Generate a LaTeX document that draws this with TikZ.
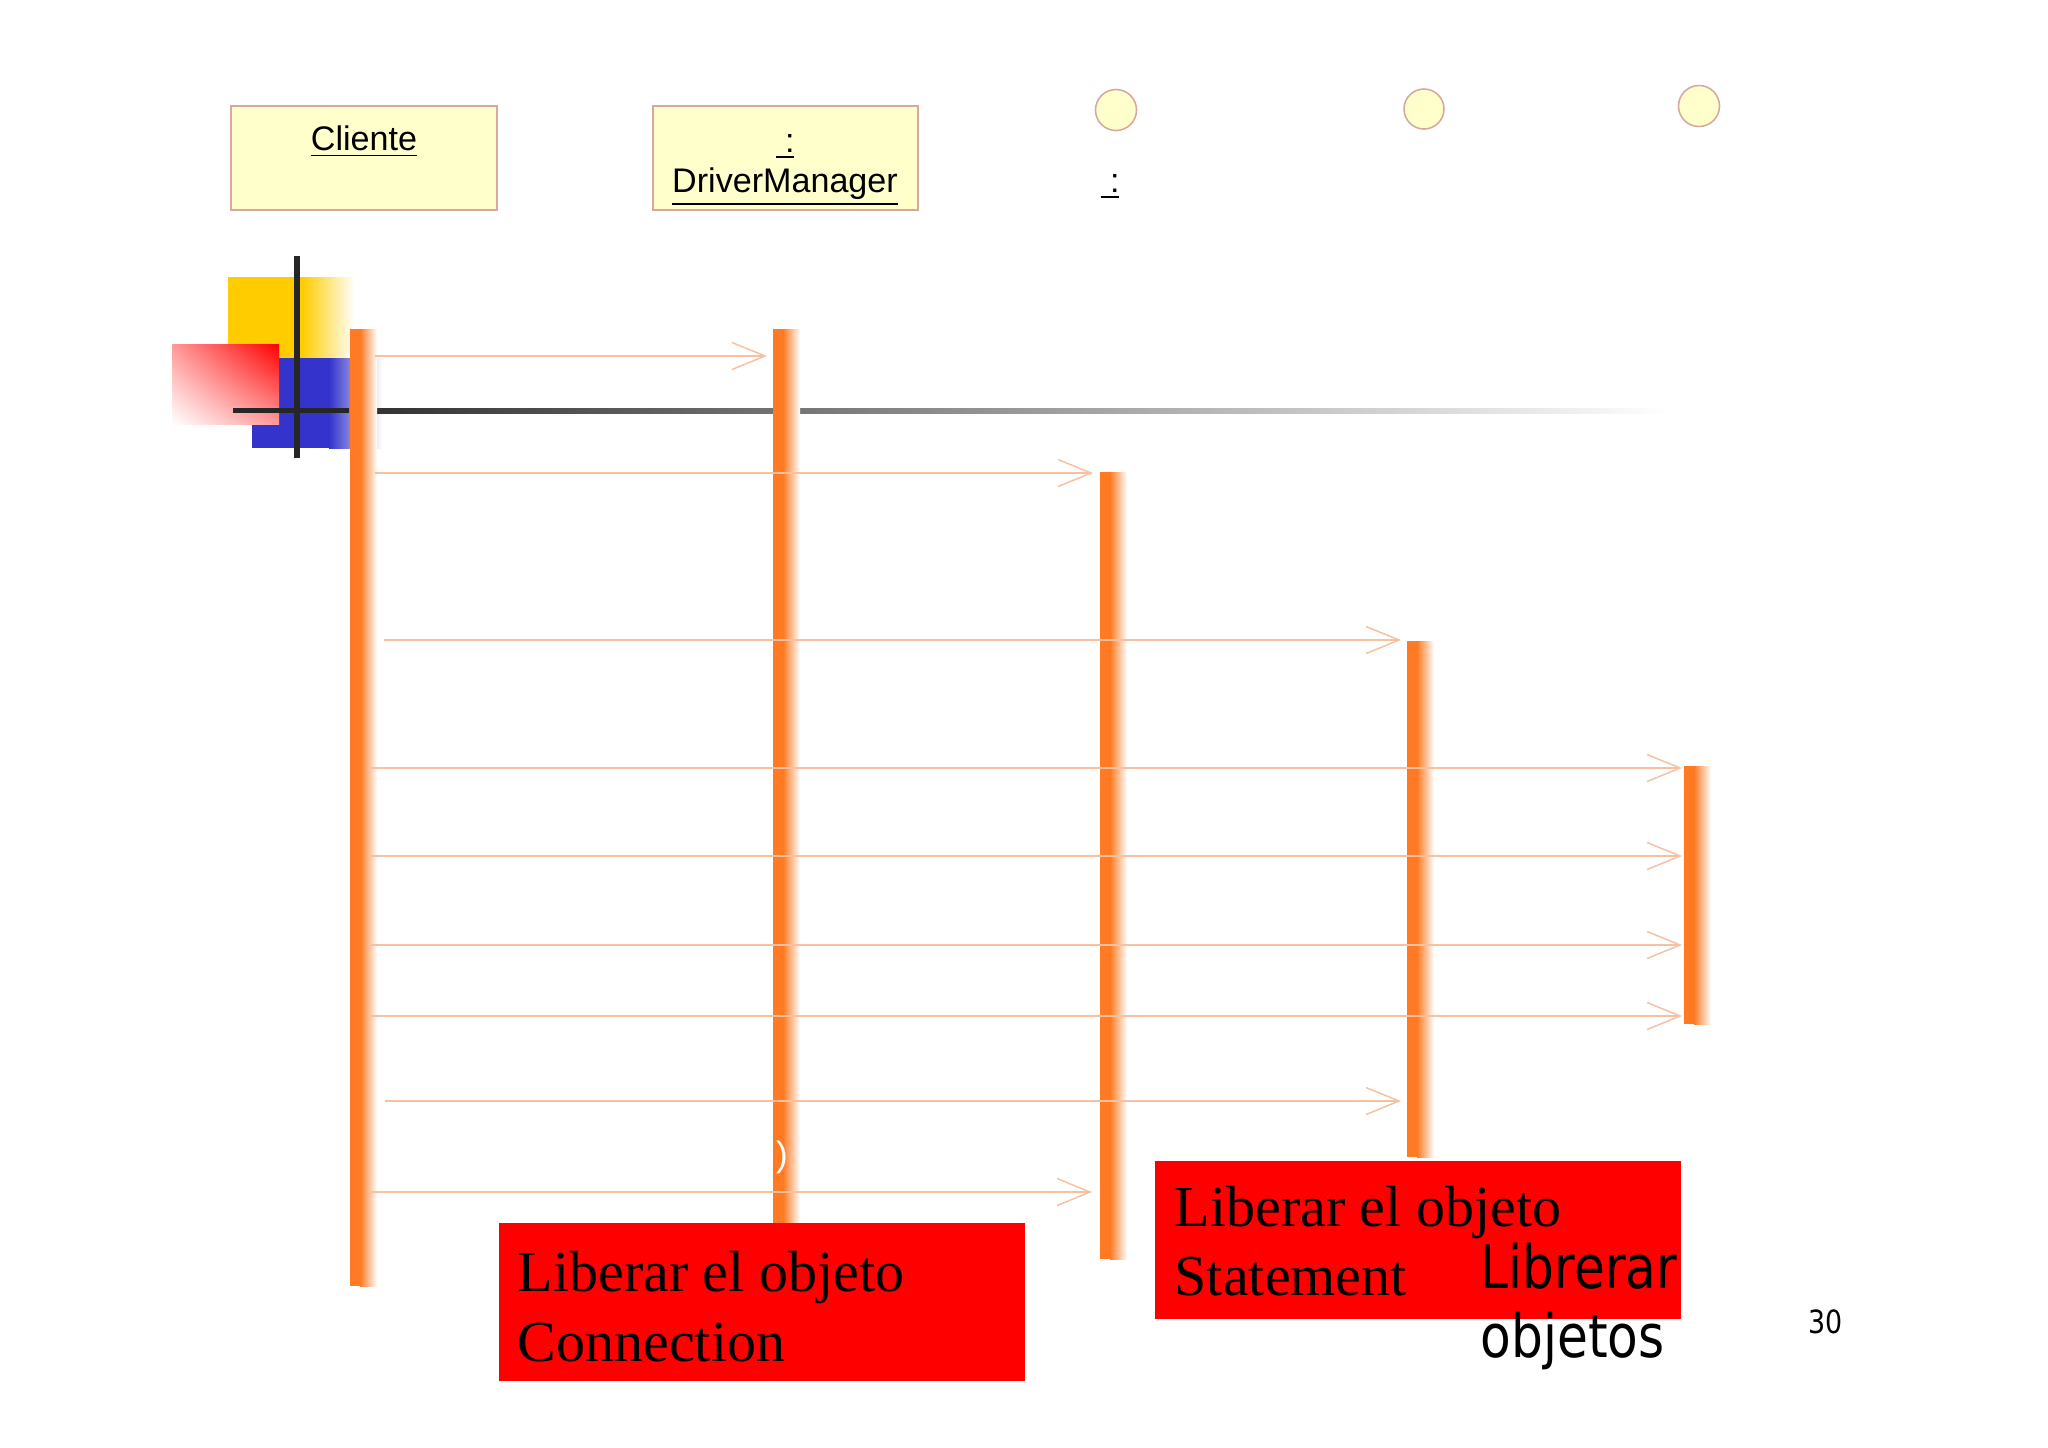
\documentclass[tikz,border=0pt]{standalone}
\usepackage{fontspec}
\setmainfont{Liberation Serif}
\newfontfamily\arialfont{Liberation Sans}
\newfontfamily\tahomafont[FakeStretch=0.84]{DejaVu Sans}
\usetikzlibrary{arrows.meta,shadings}
\definecolor{boxfill}{HTML}{FFFFCC}
\definecolor{boxline}{HTML}{D8A8A0}
\definecolor{barorange}{HTML}{FF7A22}
\definecolor{msgline}{HTML}{F7C0A0}
\definecolor{logoyellow}{HTML}{FFCC00}
\definecolor{logoblue}{HTML}{3434CC}
\begin{document}
\begin{tikzpicture}[x=0.01cm, y=-0.01cm,
  >={Straight Barb[length=3.3mm,width=2.7mm]},
  msg/.style={draw=msgline, line width=0.42pt},
  objbox/.style={draw=boxline, fill=boxfill, line width=0.45pt},
  lbl/.style={inner sep=0, anchor=base, font=\arialfont\fontsize{9.7}{11}\selectfont},
  big/.style={inner sep=0, anchor=base west, font=\fontsize{16.5}{20}\selectfont},
  tah/.style={inner sep=0, anchor=base west, font=\tahomafont\fontsize{17}{20}\selectfont}]
\useasboundingbox (0,0) rectangle (2048,1447);
% objects
\draw [objbox] (231,106) rectangle (497,210);
\draw [objbox] (653,106) rectangle (918,210);
\node [objbox, circle, inner sep=0, minimum size=0.41cm] (c1) at (1116,110) {};
\node [objbox, circle, inner sep=0, minimum size=0.40cm] (c2) at (1424,109) {};
\node [objbox, circle, inner sep=0, minimum size=0.41cm] (c3) at (1699,106) {};
\node [lbl] (cliente) at (364,150) {\underline{Cliente}};
\node [lbl] (dmcolon) at (785,152) {\underline{\ :}};
\node [lbl] (dm) at (785,192) {\underline{DriverManager}};
\node [lbl] (c1colon) at (1110,192) {\underline{\ :}};
% logo
\fill [logoyellow] (228,277) rectangle (302,358);
\shade [left color=logoyellow, right color=white] (302,277) rectangle (355,358);
\fill [logoblue] (252,358) rectangle (329,448);
\shade [left color=logoblue, right color=white] (329,358) rectangle (382,448);
\shade [upper right=red, lower left=white, upper left=red!40!white, lower right=red!40!white] (172,344) rectangle (279,424);
\draw [line width=1.6pt, black!85] (297,256) -- (297,458);
\draw [line width=1.4pt, black!85] (233,410.5) -- (349,410.5);
\shade [left color=black!80, middle color=black!38, right color=white] (375,408) rectangle (1672,413);
% bars
\fill [barorange] (350,329) rectangle (360,1286);
\shade [left color=barorange, right color=white] (360,329) rectangle (377,1286);
\fill [barorange] (773,329) rectangle (783,1250);
\shade [left color=barorange, right color=white] (783,329) rectangle (800,1250);
\fill [barorange] (1100,472) rectangle (1110,1259);
\shade [left color=barorange, right color=white] (1110,472) rectangle (1127,1259);
\fill [barorange] (1407,641) rectangle (1417,1157);
\shade [left color=barorange, right color=white] (1417,641) rectangle (1434,1157);
\fill [barorange] (1684,766) rectangle (1694,1024);
\shade [left color=barorange, right color=white] (1694,766) rectangle (1711,1024);
\node [inner sep=0, text=white, font=\arialfont\fontsize{10}{12}\selectfont] (paren) at (782,1157) {)};
% messages
\node [] (0) at (375,356) {};
\node [] (1) at (767,356) {};
\node [] (2) at (375,473) {};
\node [] (3) at (1093,473) {};
\node [] (4) at (384,640) {};
\node [] (5) at (1401,640) {};
\node [] (6) at (368,768) {};
\node [] (7) at (1682,768) {};
\node [] (8) at (368,856) {};
\node [] (9) at (1682,856) {};
\node [] (10) at (368,945) {};
\node [] (11) at (1682,945) {};
\node [] (12) at (368,1016) {};
\node [] (13) at (1682,1016) {};
\node [] (14) at (385,1101) {};
\node [] (15) at (1401,1101) {};
\node [] (16) at (370,1192) {};
\node [] (17) at (1092,1192) {};
\draw [msg, ->] (0.center) to (1.center);
\draw [msg, ->] (2.center) to (3.center);
\draw [msg, ->] (4.center) to (5.center);
\draw [msg, ->] (6.center) to (7.center);
\draw [msg, ->] (8.center) to (9.center);
\draw [msg, ->] (10.center) to (11.center);
\draw [msg, ->] (12.center) to (13.center);
\draw [msg, ->] (14.center) to (15.center);
\draw [msg, ->] (16.center) to (17.center);
% notes
\fill [red] (499,1223) rectangle (1025,1381);
\fill [red] (1155,1161) rectangle (1681,1319);
\node [big] (conn1) at (517,1291) {Liberar el objeto};
\node [big] (conn2) at (517,1361) {Connection};
\node [big] (stmt1) at (1174,1226) {Liberar el objeto};
\node [big] (stmt2) at (1174,1295) {Statement};
\node [tah] (lib1) at (1480,1288) {Librerar};
\node [tah] (lib2) at (1480,1357) {objetos};
\node [tah, font=\tahomafont\fontsize{9.1}{11}\selectfont] (page) at (1808,1333) {30};
\end{tikzpicture}
\end{document}
